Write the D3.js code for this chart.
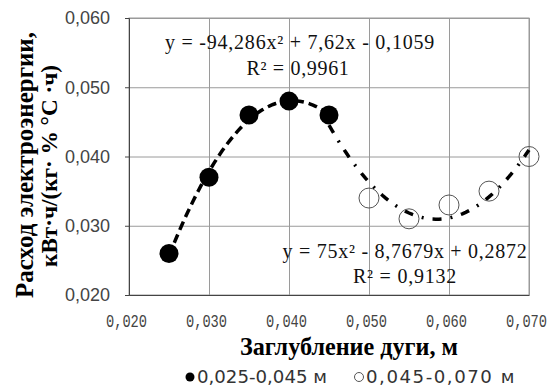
<!DOCTYPE html>
<html>
<head>
<meta charset="utf-8">
<script src="https://cdn.jsdelivr.net/npm/d3@7"></script>
<style>
  body { margin: 0; background: #fff; }
  svg { display: block; }
</style>
</head>
<body>
<svg width="550" height="389"></svg>
<script>
const xTicks = [0.020, 0.030, 0.040, 0.050, 0.060, 0.070];
const yTicks = [0.020, 0.030, 0.040, 0.050, 0.060];

const depthA = [0.025, 0.030, 0.035, 0.040, 0.045];
const powerA = [0.026, 0.037, 0.046, 0.048, 0.046];

const depthB = [0.050, 0.055, 0.060, 0.065, 0.070];
const powerB = [0.034, 0.031, 0.033, 0.035, 0.040];

// trendline coefficients [a, b, c] for y = a*x^2 + b*x + c
const trendA = [-94.286, 7.62, -0.1059];
const trendB = [75, -8.7679, 0.2872];
const rangeA = [0.025, 0.045];
const rangeB = [0.045, 0.070];

const eqLabels = [
  ['y = -94,286x² + 7,62x - 0,1059', 'R² = 0,9961'],
  ['y = 75x² - 8,7679x + 0,2872', 'R² = 0,9132']
];
const yTitleLines = ['Расход электроэнергии,', 'кВт·ч/(кг· % °С ·ч)'];
const xTitle = 'Заглубление дуги, м';
const legendLabels = ['0,025-0,045 м', '0,045-0,070 м'];

const fmt = v => d3.format('.3f')(v).replace('.', ',');

// scale the font so the text takes the given width
function fitSize(sel, target) {
  const fs = +sel.attr('font-size');
  const w = sel.node().getComputedTextLength();
  sel.attr('font-size', (fs * target / w).toFixed(2));
  return sel;
}
// widen the spaces so the text takes the given width
function fitSpaces(sel, target) {
  const t = sel.text();
  const n = (t.match(/ /g) || []).length;
  const w = sel.node().getComputedTextLength();
  if (n && target > w) sel.attr('word-spacing', ((target - w) / n).toFixed(2));
  return sel;
}
function fitLetters(sel, target) {
  const n = sel.text().length;
  const w = sel.node().getComputedTextLength();
  if (target > w) sel.attr('letter-spacing', ((target - w) / n).toFixed(2));
  return sel;
}

const svg = d3.select('svg');
const pl = 129, pr = 529, pt = 18, pb = 295;

const x = d3.scaleLinear().domain([0.020, 0.070]).range([pl, pr]);
const y = d3.scaleLinear().domain([0.020, 0.060]).range([pb, pt]);

// grid
svg.append('g')
  .attr('transform', `translate(0,${pb})`)
  .call(d3.axisBottom(x).tickValues(xTicks).tickSize(-(pb - pt)).tickFormat(''))
  .call(g => g.select('.domain').remove())
  .selectAll('line').attr('stroke', '#9a9a9a');

svg.append('g')
  .attr('transform', `translate(${pl},0)`)
  .call(d3.axisLeft(y).tickValues(yTicks).tickSize(-(pr - pl)).tickFormat(''))
  .call(g => g.select('.domain').remove())
  .selectAll('line').attr('stroke', '#9a9a9a');

svg.append('rect')
  .attr('x', pl).attr('y', pt)
  .attr('width', pr - pl).attr('height', pb - pt)
  .attr('fill', 'none').attr('stroke', '#9a9a9a');

// axes
const yAxis = svg.append('g')
  .attr('transform', `translate(${pl},0)`)
  .call(d3.axisLeft(y).tickValues(yTicks).tickSize(4).tickPadding(15).tickFormat(fmt));
yAxis.select('.domain').attr('stroke', '#444');
yAxis.selectAll('line').attr('stroke', '#444');
yAxis.selectAll('text')
  .attr('font-family', 'Liberation Sans')
  .attr('font-size', 18)
  .attr('fill', '#444');

const xAxis = svg.append('g')
  .attr('transform', `translate(0,${pb})`)
  .call(d3.axisBottom(x).tickValues(xTicks).tickSize(0).tickPadding(0).tickFormat(fmt));
xAxis.select('.domain').attr('stroke', '#444');
xAxis.selectAll('text')
  .attr('font-family', 'Liberation Mono')
  .attr('font-size', 19)
  .attr('fill', '#444')
  .attr('dy', null)
  .attr('y', 32)
  .attr('transform', 'translate(-3,0) scale(0.72,1)');

// trendlines
function curve(coef, range) {
  const pts = d3.range(range[0], range[1] + 1e-9, (range[1] - range[0]) / 60);
  return pts.map(v => [v, coef[0] * v * v + coef[1] * v + coef[2]]);
}
const line = d3.line().x(d => x(d[0])).y(d => y(d[1]));

svg.append('path')
  .datum(curve(trendA, rangeA))
  .attr('d', line)
  .attr('fill', 'none')
  .attr('stroke', '#000')
  .attr('stroke-width', 3.5)
  .attr('stroke-dasharray', '9,5');

svg.append('path')
  .datum(curve(trendB, rangeB))
  .attr('d', line)
  .attr('fill', 'none')
  .attr('stroke', '#000')
  .attr('stroke-width', 3.5)
  .attr('stroke-dasharray', '9,9,2,9');

// markers
svg.append('g').selectAll('circle')
  .data(depthA.map((d, i) => [d, powerA[i]]))
  .join('circle')
  .attr('cx', d => x(d[0])).attr('cy', d => y(d[1]))
  .attr('r', 9.5)
  .attr('fill', '#000');

svg.append('g').selectAll('circle')
  .data(depthB.map((d, i) => [d, powerB[i]]))
  .join('circle')
  .attr('cx', d => x(d[0])).attr('cy', d => y(d[1]))
  .attr('r', 10)
  .attr('fill', 'none')
  .attr('stroke', '#555')
  .attr('stroke-width', 1);

// equation labels: [centre x, baseline y, width]
const eqPos = [
  [[300, 49, 270], [298, 75, 103]],
  [[405, 258, 245], [405, 283, 104]]
];
eqLabels.forEach((lines, i) => {
  lines.forEach((t, j) => {
    const p = eqPos[i][j];
    const el = svg.append('text')
      .attr('x', p[0]).attr('y', p[1])
      .attr('font-family', 'Liberation Serif')
      .attr('font-size', 20)
      .attr('fill', '#111')
      .attr('text-anchor', 'middle')
      .text(t);
    fitLetters(el, p[2]);
  });
});

// axis titles: [centre along axis, baseline, length]
const yTitlePos = [[165, 33, 266], [166, 57, 202]];
yTitleLines.forEach((t, i) => {
  const p = yTitlePos[i];
  const el = svg.append('text')
    .attr('transform', `translate(${p[1]},${p[0]}) rotate(-90)`)
    .attr('font-family', 'Liberation Serif')
    .attr('font-weight', 'bold')
    .attr('font-size', 20)
    .attr('text-anchor', 'middle')
    .text(t);
  fitSize(el, p[2]);
});

fitSize(svg.append('text')
  .attr('x', 349).attr('y', 355)
  .attr('font-family', 'Liberation Serif')
  .attr('font-weight', 'bold')
  .attr('font-size', 22)
  .attr('text-anchor', 'middle')
  .text(xTitle), 218);

// legend
const legX = [197, 366];
const legW = [130, 150];
let legSize = null;
legendLabels.forEach((t, i) => {
  svg.append('circle')
    .attr('cx', legX[i] - 7).attr('cy', 377).attr('r', 4.5)
    .attr('fill', i === 0 ? '#000' : 'none')
    .attr('stroke', i === 0 ? 'none' : '#555');
  const el = svg.append('text')
    .attr('x', legX[i]).attr('y', 383)
    .attr('font-family', 'DejaVu Sans')
    .attr('font-size', legSize || 17)
    .attr('fill', '#333')
    .text(t);
  if (i === 0) { fitSize(el, legW[i]); legSize = +el.attr('font-size'); }
  else fitLetters(el, legW[i]);
});
</script>
</body>
</html>
